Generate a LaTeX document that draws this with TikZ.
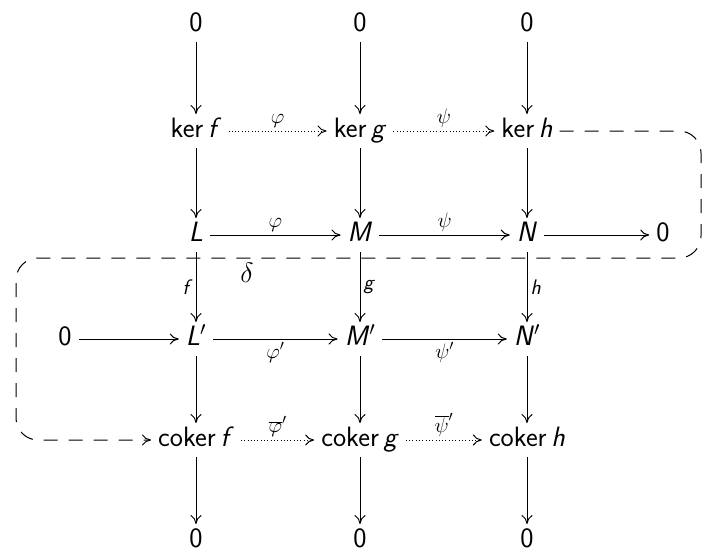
\RequirePackage{fix-cm}
\documentclass[tikz,border=0pt]{standalone}
\usetikzlibrary{arrows.meta}
\newcommand\myobjfont{\fontsize{28}{32}\selectfont\sffamily}
\newcommand\mylblfont{\fontsize{21}{25}\selectfont\sffamily}
\tikzset{
  obj/.style={font=\myobjfont, inner xsep=7pt, inner ysep=4pt, text height=19pt, text depth=6.5pt},
  lbl/.style={font=\mylblfont, inner sep=3pt},
  arr/.style={-{To[length=9pt,width=11pt]}, line width=1pt},
  dotarr/.style={arr, dash pattern=on 1pt off 2.3pt},
  dasharr/.style={arr, dash pattern=on 14pt off 11pt, rounded corners=22pt}
}
\begin{document}
\begin{tikzpicture}[x=1pt,y=1pt]
\useasboundingbox (0,0) rectangle (703,-552);
% top zeros
\node[obj] (t1) at (196,-25) {0};
\node[obj] (t2) at (360,-25) {0};
\node[obj] (t3) at (527,-25) {0};
% kernels
\node[obj] (k1) at (196,-131) {ker\,\textit{f}};
\node[obj] (k2) at (360,-131) {ker\,\textit{g}};
\node[obj] (k3) at (527,-131) {ker\,\textit{h}};
% first row
\node[obj] (L) at (196,-235) {\textit{L}};
\node[obj] (M) at (360,-235) {\textit{M}};
\node[obj] (N) at (527,-235) {\textit{N}};
\node[obj] (z1) at (663,-235) {0};
% second row
\node[obj] (z0) at (65,-339) {0};
\node[obj] (L2) at (196,-339) {\textit{L}$'$};
\node[obj] (M2) at (360,-339) {\textit{M}$'$};
\node[obj] (N2) at (527,-339) {\textit{N}$'$};
% cokernels
\node[obj] (c1) at (196,-440) {coker\,\textit{f}};
\node[obj] (c2) at (360,-440) {coker\,\textit{g}};
\node[obj] (c3) at (527,-440) {coker\,\textit{h}};
% bottom zeros
\node[obj] (b1) at (196,-541) {0};
\node[obj] (b2) at (360,-541) {0};
\node[obj] (b3) at (527,-541) {0};
% delta
\node[obj] (delta) at (247,-276) {$\delta$};

% vertical arrows
\draw[arr] (t1) -- (k1);
\draw[arr] (t2) -- (k2);
\draw[arr] (t3) -- (k3);
\draw[arr] (k1) -- (L);
\draw[arr] (k2) -- (M);
\draw[arr] (k3) -- (N);
\draw[arr] (L) -- node[lbl,left] (lf) {\textit{f}} (L2);
\draw[arr] (M) -- node[lbl,right] (lg) {\textit{g}} (M2);
\draw[arr] (N) -- node[lbl,right] (lh) {\textit{h}} (N2);
\draw[arr] (L2) -- (c1);
\draw[arr] (M2) -- (c2);
\draw[arr] (N2) -- (c3);
\draw[arr] (c1) -- (b1);
\draw[arr] (c2) -- (b2);
\draw[arr] (c3) -- (b3);

% horizontal arrows
\draw[dotarr] (k1) -- node[lbl,above] (lk1) {$\varphi$} (k2);
\draw[dotarr] (k2) -- node[lbl,above] (lk2) {$\psi$} (k3);
\draw[arr] (L) -- node[lbl,above] (lL) {$\varphi$} (M);
\draw[arr] (M) -- node[lbl,above] (lM) {$\psi$} (N);
\draw[arr] (N) -- (z1);
\draw[arr] (z0) -- (L2);
\draw[arr] (L2) -- node[lbl,below] (lL2) {$\varphi'$} (M2);
\draw[arr] (M2) -- node[lbl,below] (lM2) {$\psi'$} (N2);
\draw[dotarr] (c1) -- node[lbl,above] (lc1) {$\overline{\varphi}'$} (c2);
\draw[dotarr] (c2) -- node[lbl,above] (lc2) {$\overline{\psi}'$} (c3);

% snake
\draw[dasharr] (k3.east) -- (701,-131) -- (701,-258) -- (16,-258) -- (16,-440) -- (c1.west);
\end{tikzpicture}
\end{document}
